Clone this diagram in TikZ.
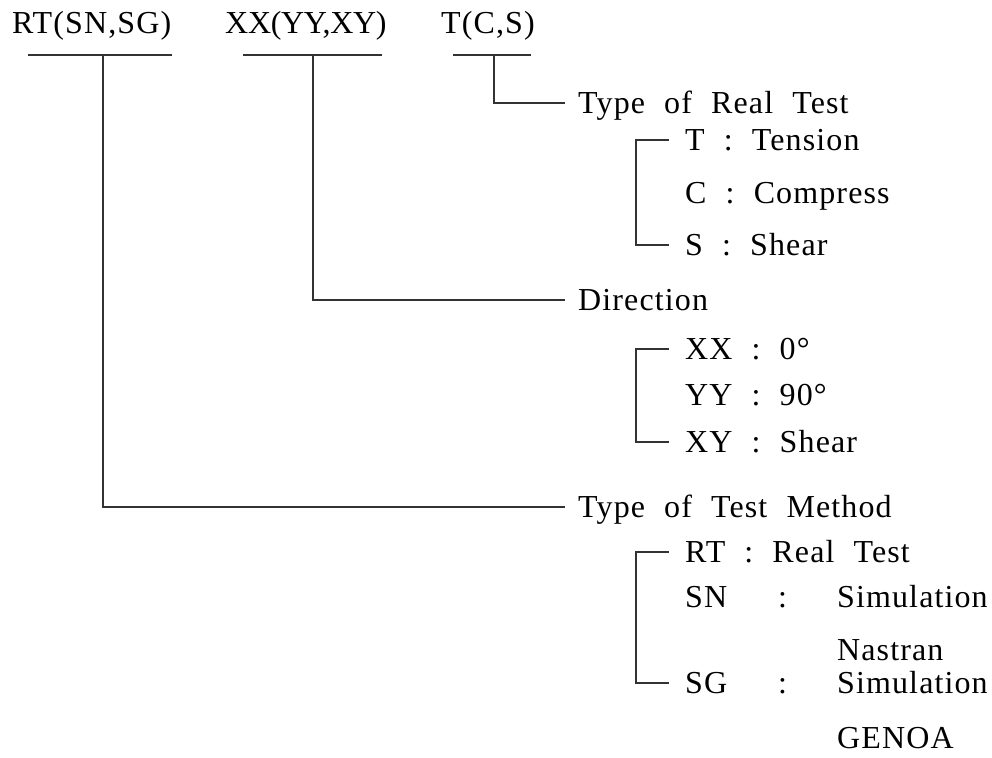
\documentclass[tikz,border=0pt]{standalone}
\usepackage{fontspec}
\setmainfont{Liberation Serif}[LetterSpace=3.5,WordSpace=2.1]
\begin{document}
\begin{tikzpicture}[x=1pt,y=-1pt,
  lbl/.style={inner sep=0pt, text height=21pt, text depth=0pt, anchor=west,
              font=\fontsize{32}{38}\selectfont},
  wire/.style={draw=black!80, line width=1.3pt}]
% canvas
\fill[white] (0,0) rectangle (992,757);

% code words on top
\node[lbl] (rt) at (12,23) {RT(SN,SG)};
\node[lbl] (xx) at (225,23) {\addfontfeature{LetterSpace=-1}XX(YY,XY)};
\node[lbl] (tc) at (441,23) {T(C,S)};

% underlines and their stems
\coordinate (u1l) at (28,55);  \coordinate (u1r) at (172,55); \coordinate (u1m) at (103,55);
\coordinate (u2l) at (243,55); \coordinate (u2r) at (382,55); \coordinate (u2m) at (313,55);
\coordinate (u3l) at (453,55); \coordinate (u3r) at (531,55); \coordinate (u3m) at (494,55);
\draw[wire] (u1l) -- (u1r);
\draw[wire] (u2l) -- (u2r);
\draw[wire] (u3l) -- (u3r);

% headings
\node[lbl] (hreal) at (578,103) {Type of Real Test};
\node[lbl] (hdir)  at (578,300) {Direction};
\node[lbl] (hmeth) at (578,507) {Type of Test Method};

\draw[wire] (u3m) |- ([xshift=-13pt]hreal.west);
\draw[wire] (u2m) |- ([xshift=-13pt]hdir.west);
\draw[wire] (u1m) |- ([xshift=-13pt]hmeth.west);

% bracket tick end
\coordinate (bx) at (669,0);

% type of real test
\node[lbl] (t1) at (685,140) {T : Tension};
\node[lbl] (t2) at (685,193) {C : Compress};
\node[lbl] (t3) at (685,245) {S : Shear};
\draw[wire] (t1.west -| bx) -- ++(-33,0) |- (t3.west -| bx);

% direction
\node[lbl] (d1) at (685,349) {XX : 0°};
\node[lbl] (d2) at (685,395) {YY : 90°};
\node[lbl] (d3) at (685,442) {XY : Shear};
\draw[wire] (d1.west -| bx) -- ++(-33,0) |- (d3.west -| bx);

% test method
\node[lbl] (m1)  at (685,552) {RT : Real Test};
\node[lbl] (m2a) at (685,597) {SN};
\node[lbl] (m2b) at (778,597) {:};
\node[lbl] (m2c) at (837,597) {Simulation};
\node[lbl] (m2d) at (837,650) {Nastran};
\node[lbl] (m3a) at (685,683) {SG};
\node[lbl] (m3b) at (778,683) {:};
\node[lbl] (m3c) at (837,683) {Simulation};
\node[lbl] (m4)  at (837,738) {GENOA};
\draw[wire] (m1.west -| bx) -- ++(-33,0) |- (m3a.west -| bx);
\end{tikzpicture}
\end{document}
